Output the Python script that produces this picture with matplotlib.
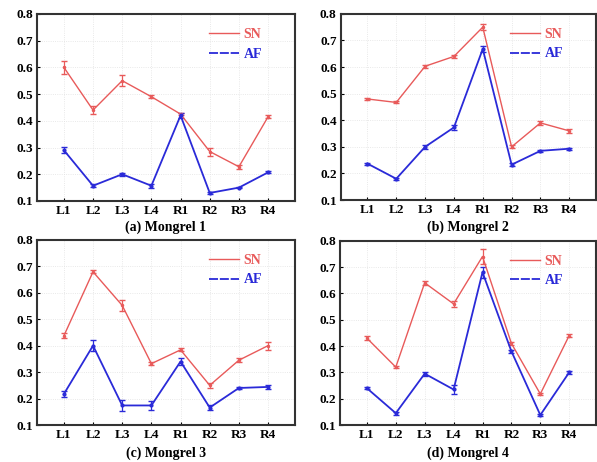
import matplotlib
matplotlib.use("Agg")
import matplotlib.pyplot as plt
from matplotlib.lines import Line2D

plt.rcParams['font.family'] = ['Liberation Serif', 'DejaVu Serif']
plt.rcParams['font.weight'] = 'bold'

labels = ["L1", "L2", "L3", "L4", "R1", "R2", "R3", "R4"]

# SN / AF per mongrel, with small error bars
sn_1 = [0.60, 0.44, 0.55, 0.49, 0.425, 0.285, 0.228, 0.415]
af_1 = [0.29, 0.157, 0.20, 0.157, 0.42, 0.13, 0.15, 0.207]
sn_1_err = [0.025, 0.015, 0.02, 0.005, 0.005, 0.015, 0.008, 0.005]
af_1_err = [0.012, 0.005, 0.006, 0.008, 0.01, 0.005, 0.003, 0.004]

sn_2 = [0.48, 0.467, 0.603, 0.64, 0.75, 0.30, 0.39, 0.36]
af_2 = [0.237, 0.18, 0.30, 0.373, 0.668, 0.233, 0.285, 0.293]
sn_2_err = [0.005, 0.004, 0.005, 0.005, 0.01, 0.006, 0.008, 0.008]
af_2_err = [0.004, 0.004, 0.008, 0.008, 0.012, 0.006, 0.004, 0.004]

sn_3 = [0.437, 0.679, 0.552, 0.332, 0.384, 0.25, 0.345, 0.40]
af_3 = [0.217, 0.40, 0.174, 0.174, 0.34, 0.166, 0.24, 0.244]
sn_3_err = [0.01, 0.006, 0.02, 0.006, 0.006, 0.01, 0.008, 0.015]
af_3_err = [0.012, 0.02, 0.02, 0.018, 0.015, 0.01, 0.004, 0.008]

sn_4 = [0.43, 0.32, 0.64, 0.56, 0.74, 0.41, 0.218, 0.44]
af_4 = [0.24, 0.145, 0.295, 0.235, 0.68, 0.38, 0.138, 0.30]
sn_4_err = [0.008, 0.005, 0.008, 0.01, 0.03, 0.005, 0.005, 0.006]
af_4_err = [0.005, 0.005, 0.008, 0.018, 0.02, 0.005, 0.005, 0.005]

captions = ["(a) Mongrel 1", "(b) Mongrel 2", "(c) Mongrel 3", "(d) Mongrel 4"]
sn_all = [sn_1, sn_2, sn_3, sn_4]
af_all = [af_1, af_2, af_3, af_4]
sn_err_all = [sn_1_err, sn_2_err, sn_3_err, sn_4_err]
af_err_all = [af_1_err, af_2_err, af_3_err, af_4_err]

red = '#e85a5a'
blue = '#2a2ad8'

fig = plt.figure(figsize=(5.97, 4.62), dpi=100)
positions = [
    [0.062, 0.565, 0.432, 0.405],
    [0.571, 0.567, 0.427, 0.403],
    [0.062, 0.080, 0.432, 0.401],
    [0.570, 0.080, 0.428, 0.399],
]
caption_y = [0.509, 0.509, 0.020, 0.020]

x = list(range(1, len(labels) + 1))
for i in range(4):
    ax = fig.add_axes(positions[i])
    ax.errorbar(x, sn_all[i], yerr=sn_err_all[i], color=red, lw=1.0,
                marker='.', ms=3, capsize=2, elinewidth=0.9)
    ax.errorbar(x, af_all[i], yerr=af_err_all[i], color=blue, lw=1.3,
                marker='.', ms=4, capsize=2, elinewidth=0.9)
    ax.set_xlim(0.08, 8.92)
    ax.set_ylim(0.1, 0.8)
    ax.set_xticks(x)
    ax.set_xticklabels(labels)
    ax.set_yticks([0.1, 0.2, 0.3, 0.4, 0.5, 0.6, 0.7, 0.8])
    ax.set_yticklabels(["0.1", "0.2", "0.3", "0.4", "0.5", "0.6", "0.7", "0.8"])
    ax.tick_params(labelsize=9.5, length=2, direction='in', pad=3)
    ax.grid(True, linestyle=':', color='#e2e2e2', lw=0.6)
    for s in ax.spines.values():
        s.set_linewidth(1.5)
        s.set_color('#333333')
    handles = [Line2D([], [], color=red, lw=1.0),
               Line2D([], [], color=blue, lw=1.3, ls='--', dashes=(5, 1))]
    leg = ax.legend(handles, ["SN", "AF"], loc='upper right', frameon=False,
                    fontsize=10, handlelength=2.2, labelspacing=0.45,
                    bbox_to_anchor=(0.91, 0.975), borderaxespad=0.3,
                    handletextpad=0.3)
    for txt, c in zip(leg.get_texts(), [red, blue]):
        txt.set_color(c)
    cx = positions[i][0] + positions[i][2] / 2
    fig.text(cx, caption_y[i], captions[i], ha='center', va='center',
             fontsize=10, fontweight='bold')

fig.savefig("out.png", dpi=100)
